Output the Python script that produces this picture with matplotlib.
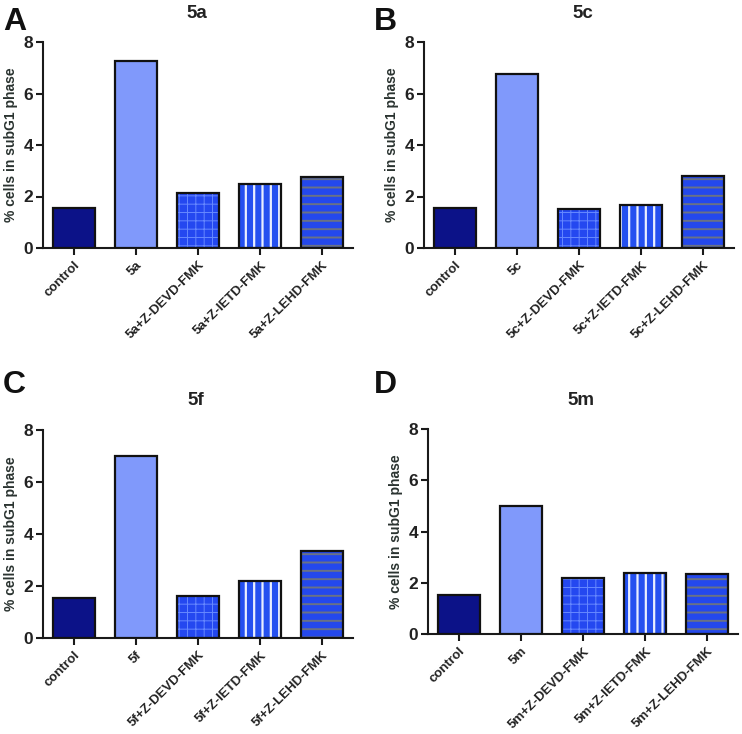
import matplotlib
matplotlib.use("Agg")
import matplotlib.pyplot as plt
import numpy as np

plt.rcParams['font.family'] = ['Liberation Sans', 'DejaVu Sans']
plt.rcParams['font.weight'] = 'bold'

panels = ['A', 'B', 'C', 'D']
compounds = ['5a', '5c', '5f', '5m']
inhibitors = ['Z-DEVD-FMK', 'Z-IETD-FMK', 'Z-LEHD-FMK']

values_5a = [1.55, 7.27, 2.12, 2.48, 2.75]
values_5c = [1.55, 6.77, 1.50, 1.67, 2.78]
values_5f = [1.54, 7.00, 1.63, 2.18, 3.34]
values_5m = [1.52, 5.00, 2.19, 2.39, 2.35]
all_values = [values_5a, values_5c, values_5f, values_5m]

ylabel = '% cells in subG1 phase'
yticks = [0, 2, 4, 6, 8]

face_colors = ['#0c1288', '#8099fb', '#2448f0', '#2450f0', '#2448ec']
hatches = [None, None, '++', '||', '--']
hatch_colors = [None, None, '#6688ff', '#e8eeff', '#6a7284']
hatch_widths = [1.0, 1.0, 0.7, 1.6, 1.4]

# axes rectangles in figure fraction [left, bottom, width, height]
W, H = 742, 734
rects = [
    [43 / W, 1 - 248 / H, 310 / W, 206 / H],
    [424 / W, 1 - 248 / H, 310 / W, 206 / H],
    [43 / W, 1 - 638 / H, 310 / W, 208 / H],
    [428 / W, 1 - 634 / H, 310 / W, 205 / H],
]
letter_pos = [(3, 22), (374, 22), (3, 385), (374, 385)]
title_pos = [(197, 13), (583, 13), (196, 400), (581, 400)]

fig = plt.figure(figsize=(7.42, 7.34), dpi=100)
txt = '#222222'

for i in range(4):
    ax = fig.add_axes(rects[i])
    vals = all_values[i]
    c = compounds[i]
    labels = ['control', c] + [f'{c}+{inh}' for inh in inhibitors]
    x = np.arange(len(vals))
    for j in range(len(vals)):
        if hatches[j]:
            plt.rcParams['hatch.linewidth'] = hatch_widths[j]
            ax.bar(x[j], vals[j], width=0.67, color=face_colors[j],
                   hatch=hatches[j], edgecolor=hatch_colors[j], linewidth=0, zorder=2)
        ax.bar(x[j], vals[j], width=0.67,
               color=face_colors[j] if not hatches[j] else 'none',
               edgecolor='#111111', linewidth=1.6, zorder=3)
    ax.set_xlim(-0.5, 4.5)
    ax.set_ylim(0, 8)
    ax.set_yticks(yticks)
    ax.set_yticklabels([str(t) for t in yticks], fontsize=12.5, fontweight='bold', color=txt)
    ax.set_xticks(x)
    ax.set_xticklabels(labels, rotation=45, ha='right', rotation_mode='anchor',
                       fontsize=9.5, fontweight='bold', color=txt)
    ax.set_ylabel(ylabel, fontsize=10, fontweight='bold', color='#2a3330', labelpad=4)
    for s in ['top', 'right']:
        ax.spines[s].set_visible(False)
    for s in ['left', 'bottom']:
        ax.spines[s].set_linewidth(1.5)
        ax.spines[s].set_color('#1a1a1a')
    ax.tick_params(axis='y', direction='out', length=5, width=1.5, color='#1a1a1a', pad=2)
    ax.tick_params(axis='x', direction='out', length=5, width=1.5, color='#1a1a1a', pad=3)
    fig.text(letter_pos[i][0] / W, 1 - letter_pos[i][1] / H, panels[i],
             fontsize=23, fontweight='bold', color='#111111', va='center', ha='left')
    fig.text(title_pos[i][0] / W, 1 - title_pos[i][1] / H, c,
             fontsize=13.5, fontweight='bold', color=txt, va='center', ha='center')

fig.savefig('out.png', dpi=100)
